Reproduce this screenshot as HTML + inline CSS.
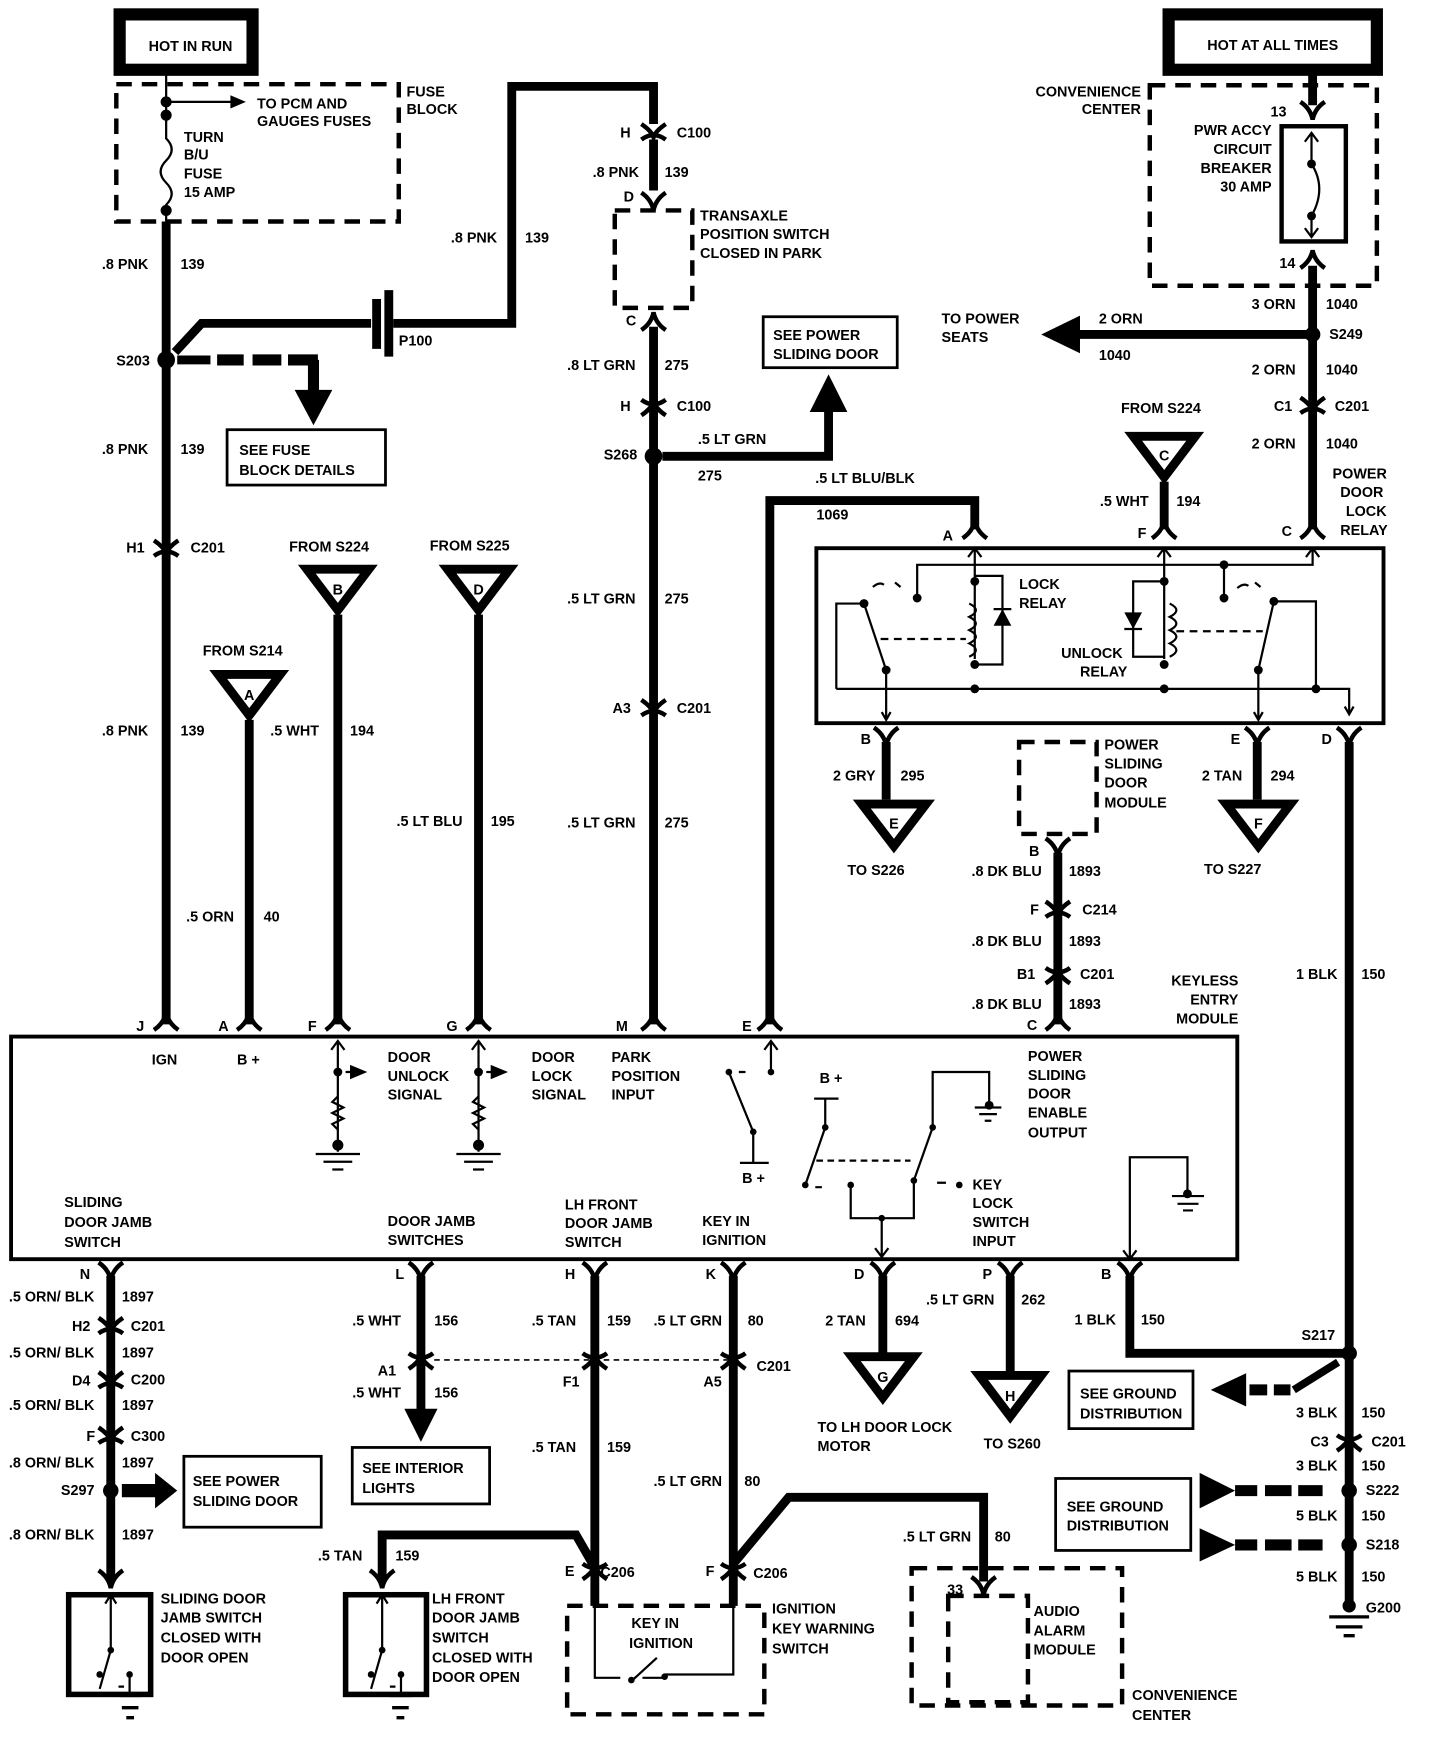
<!DOCTYPE html>
<html><head><meta charset="utf-8"><style>
html,body{margin:0;padding:0;background:#fff}
svg{display:block}
text{font-family:"Liberation Sans",sans-serif;font-weight:bold;font-size:13px;fill:#000}
.w{stroke:#000;stroke-width:8;fill:none}
.t{stroke:#000;stroke-width:2;fill:none}
.d{stroke:#000;stroke-width:4;fill:none;stroke-dasharray:14 9}
.c{stroke:#000;stroke-width:4;fill:none}
</style></head><body>
<svg width="1440" height="1752" viewBox="0 0 1300 1582" preserveAspectRatio="none" xmlns="http://www.w3.org/2000/svg">
<defs>
<g id="fd"><path class="c" d="M-11,8 Q-2,2 0,-8 Q2,2 11,8"/></g>
<g id="fu"><path class="c" d="M-11,-8 Q-2,-2 0,8 Q2,-2 11,-8"/></g>
<g id="cc"><path class="c" d="M-11,-8 Q-2,-2 0,4 Q2,-2 11,-8"/><path class="c" d="M-11,6 Q0,-2 11,6"/></g>
<g id="cu"><path class="c" d="M-11,8 Q-2,2 0,-4 Q2,2 11,8"/><path class="c" d="M-11,-6 Q0,2 11,-6"/></g>
</defs>

<!-- HOT IN RUN -->
<rect x="108" y="13" width="120" height="50" fill="none" stroke="#000" stroke-width="11"/>
<text x="172" y="46" text-anchor="middle">HOT IN RUN</text>
<rect x="105" y="76" width="255" height="124" class="d"/>
<text x="367" y="87">FUSE</text><text x="367" y="103">BLOCK</text>
<path class="t" d="M150,68 V110" stroke-width="3"/>
<circle cx="150" cy="92" r="5"/><circle cx="150" cy="104" r="5"/>
<path class="t" stroke-width="3" d="M150,92 H210"/><path d="M208,86 L222,92 L208,98Z"/>
<text x="232" y="98">TO PCM AND</text><text x="232" y="114">GAUGES FUSES</text>
<path class="t" stroke-width="2.5" d="M150,104 V125 Q160,135 150,145 Q140,155 150,165 Q160,175 150,185 V200"/>
<circle cx="150" cy="190" r="5"/>
<text x="166" y="128">TURN</text><text x="166" y="144">B/U</text><text x="166" y="161">FUSE</text><text x="166" y="178">15 AMP</text>

<!-- left main wire 139 -->
<path class="w" d="M150,200 V925"/>
<text x="92" y="243">.8 PNK</text><text x="163" y="243">139</text>
<circle cx="150" cy="325" r="8"/><text x="105" y="330">S203</text>
<path class="w" d="M158,318 L182,292 H335"/>
<path d="M336,270 h8 v45 h-8z M347,262 h8 v60 h-8z"/>
<path class="w" d="M355,292 H462 V78 H590 V112"/>
<text x="407" y="219">.8 PNK</text><text x="474" y="219">139</text>
<text x="360" y="312">P100</text>
<path class="w" d="M160,325 H190" stroke-width="6"/>
<path d="M196,320 h24 v10 h-24z M228,320 h26 v10 h-26z M260,320 h27 v10 h-27z"/>
<path d="M278,325 h10 v30 h-10z"/><path d="M266,352 L300,352 L283,384Z"/>
<rect x="205" y="388" width="143" height="50" fill="none" stroke="#000" stroke-width="2.5"/>
<text x="216" y="411">SEE FUSE</text><text x="216" y="429">BLOCK DETAILS</text>
<text x="92" y="410">.8 PNK</text><text x="163" y="410">139</text>
<use href="#cc" x="150" y="496"/><text x="114" y="499">H1</text><text x="172" y="499">C201</text>
<text x="92" y="664">.8 PNK</text><text x="163" y="664">139</text>
<use href="#fd" x="150" y="922"/>

<!-- A -->
<text x="183" y="592">FROM S214</text>
<polygon points="197,609 253,609 225,646" fill="#fff" stroke="#000" stroke-width="8"/>
<text x="225" y="632" text-anchor="middle" font-size="18">A</text>
<path class="w" d="M225,650 V925"/><use href="#fd" x="225" y="922"/>
<text x="244" y="664">.5 WHT</text><text x="316" y="664">194</text>
<text x="168" y="832">.5 ORN</text><text x="238" y="832">40</text>
<!-- B -->
<text x="261" y="498">FROM S224</text>
<polygon points="277,514 333,514 305,551" fill="#fff" stroke="#000" stroke-width="8"/>
<text x="305" y="537" text-anchor="middle" font-size="18">B</text>
<path class="w" d="M305,555 V925"/><use href="#fd" x="305" y="922"/>
<!-- D -->
<text x="388" y="497">FROM S225</text>
<polygon points="404,514 460,514 432,551" fill="#fff" stroke="#000" stroke-width="8"/>
<text x="432" y="537" text-anchor="middle" font-size="18">D</text>
<path class="w" d="M432,555 V925"/><use href="#fd" x="432" y="922"/>
<text x="358" y="746">.5 LT BLU</text><text x="443" y="746">195</text>

<!-- column M -->
<use href="#cc" x="590" y="120"/><text x="560" y="124">H</text><text x="611" y="124">C100</text>
<path class="w" d="M590,126 V172"/>
<text x="535" y="160">.8 PNK</text><text x="600" y="160">139</text>
<use href="#fu" x="590" y="182"/><text x="563" y="182">D</text>
<rect x="555" y="190" width="70" height="88" class="d"/>
<text x="632" y="199">TRANSAXLE</text><text x="632" y="216">POSITION SWITCH</text><text x="632" y="233">CLOSED IN PARK</text>
<use href="#fd" x="590" y="290"/><text x="565" y="294">C</text>
<path class="w" d="M590,295 V925"/>
<text x="512" y="334">.8 LT GRN</text><text x="600" y="334">275</text>
<use href="#cu" x="590" y="367"/><text x="560" y="371">H</text><text x="611" y="371">C100</text>
<circle cx="590" cy="412" r="8"/><text x="545" y="415">S268</text>
<path class="w" d="M598,412 H748 V368"/><path d="M731,372 L765,372 L748,338Z"/>
<rect x="689" y="286" width="121" height="46" fill="none" stroke="#000" stroke-width="2.5"/>
<text x="698" y="307">SEE POWER</text><text x="698" y="324">SLIDING DOOR</text>
<text x="630" y="401">.5 LT GRN</text><text x="630" y="434">275</text>
<text x="512" y="545">.5 LT GRN</text><text x="600" y="545">275</text>
<use href="#cc" x="590" y="640"/><text x="553" y="644">A3</text><text x="611" y="644">C201</text>
<text x="512" y="747">.5 LT GRN</text><text x="600" y="747">275</text>
<use href="#fd" x="590" y="922"/>

<!-- column E 1069 -->
<path class="w" d="M695,925 V452 H880 V478"/>
<use href="#fd" x="695" y="922"/>
<text x="736" y="436">.5 LT BLU/BLK</text><text x="737" y="469">1069</text>

<!-- HOT AT ALL TIMES -->
<rect x="1055" y="13" width="188" height="50" fill="none" stroke="#000" stroke-width="11"/>
<text x="1149" y="45" text-anchor="middle">HOT AT ALL TIMES</text>
<rect x="1038" y="77" width="205" height="181" class="d"/>
<text x="1030" y="87" text-anchor="end">CONVENIENCE</text><text x="1030" y="103" text-anchor="end">CENTER</text>
<path class="w" d="M1185,63 V95"/><use href="#fu" x="1185" y="100"/>
<text x="1147" y="105">13</text>
<rect x="1157" y="114" width="58" height="104" fill="none" stroke="#000" stroke-width="4"/>
<path class="t" stroke-width="2.5" d="M1184,120 V148 Q1198,170 1184,195 V214 M1178,128 L1184,120 L1190,128 M1178,206 L1184,214 L1190,206"/>
<circle cx="1184" cy="148" r="4"/><circle cx="1184" cy="195" r="4"/>
<text x="1148" y="122" text-anchor="end">PWR ACCY</text><text x="1148" y="139" text-anchor="end">CIRCUIT</text><text x="1148" y="156" text-anchor="end">BREAKER</text><text x="1148" y="173" text-anchor="end">30 AMP</text>
<use href="#fd" x="1185" y="234"/><text x="1155" y="242">14</text>
<path class="w" d="M1185,240 V478"/>
<text x="1130" y="279">3 ORN</text><text x="1197" y="279">1040</text>
<circle cx="1185" cy="302" r="7"/><text x="1200" y="306">S249</text>
<path class="w" d="M1180,302 H970"/><path d="M975,285 L975,319 L940,302Z"/>
<text x="850" y="292">TO POWER</text><text x="850" y="309">SEATS</text>
<text x="992" y="292">2 ORN</text><text x="992" y="325">1040</text>
<text x="1130" y="338">2 ORN</text><text x="1197" y="338">1040</text>
<use href="#cc" x="1185" y="367"/><text x="1150" y="371">C1</text><text x="1205" y="371">C201</text>
<text x="1130" y="405">2 ORN</text><text x="1197" y="405">1040</text>
<text x="1203" y="432">POWER</text><text x="1210" y="449">DOOR</text><text x="1215" y="466">LOCK</text><text x="1210" y="483">RELAY</text>
<use href="#fd" x="1185" y="478"/><text x="1157" y="484">C</text>
<text x="1012" y="373">FROM S224</text>
<polygon points="1023,394 1079,394 1051,431" fill="#fff" stroke="#000" stroke-width="8"/>
<text x="1051" y="416" text-anchor="middle" font-size="18">C</text>
<path class="w" d="M1051,435 V478"/><use href="#fd" x="1051" y="478"/>
<text x="993" y="457">.5 WHT</text><text x="1062" y="457">194</text>
<text x="1027" y="486">F</text>
<use href="#fd" x="880" y="478"/><text x="851" y="488">A</text>

<!-- relay box -->
<rect x="737" y="495" width="512" height="158" fill="none" stroke="#000" stroke-width="3.5"/>
<g class="t" stroke-width="2">
<path d="M880,495 V595 M1051,495 V595 M1185,495 V510 H828 V538 M1105,510 V540"/>
<path d="M874,503 L880,495 L886,503 M1045,503 L1051,495 L1057,503 M1179,503 L1185,495 L1191,503"/>
<path d="M880,520 H905 V600 H880 M1051,525 H1023 V593 H1051"/>
<path d="M875,545 q12,6 0,12 q12,6 0,12 q12,6 0,12 q12,6 0,12 M1056,545 q12,6 0,12 q12,6 0,12 q12,6 0,12 q12,6 0,12"/>
<path d="M755,622 V545 H780 M1150,543 H1188 V622 M755,622 H1218 V645"/>
<path d="M780,545 L800,605 V650 M1150,543 L1136,605 V650"/>
<path d="M796,643 L800,650 L804,643 M1132,643 L1136,650 L1140,643 M1214,638 L1218,645 L1222,638"/>
<path d="M788,530 q6,-5 10,-2 M808,526 l5,4 M1117,531 q6,-5 10,-2 M1133,526 l5,4"/>
</g>
<path d="M795,577 H872 M1062,570 H1140" stroke="#000" stroke-width="2" stroke-dasharray="7 5"/>
<path d="M897,565 L913,565 L905,550Z M1015,553 L1031,553 L1023,568Z"/>
<path stroke="#000" stroke-width="2" d="M897,550 H913 M1015,568 H1031"/>
<g><circle cx="880" cy="525" r="4"/><circle cx="880" cy="600" r="4"/><circle cx="880" cy="622" r="4"/><circle cx="1051" cy="525" r="4"/><circle cx="1051" cy="600" r="4"/><circle cx="1051" cy="622" r="4"/><circle cx="1105" cy="510" r="4"/><circle cx="1105" cy="540" r="4"/><circle cx="828" cy="540" r="4"/><circle cx="780" cy="545" r="4"/><circle cx="800" cy="605" r="4"/><circle cx="1150" cy="543" r="4"/><circle cx="1136" cy="605" r="4"/><circle cx="1188" cy="622" r="4"/></g>
<text x="920" y="532">LOCK</text><text x="920" y="549">RELAY</text>
<text x="958" y="594">UNLOCK</text><text x="975" y="611">RELAY</text>

<use href="#fu" x="800" y="665"/><text x="777" y="672">B</text>
<path class="w" d="M800,670 V722"/>
<text x="752" y="705">2 GRY</text><text x="813" y="705">295</text>
<polygon points="778,726 836,726 807,764" fill="#fff" stroke="#000" stroke-width="8"/>
<text x="807" y="748" text-anchor="middle" font-size="18">E</text>
<text x="765" y="790">TO S226</text>
<use href="#fu" x="1135" y="665"/><text x="1111" y="672">E</text>
<path class="w" d="M1135,670 V722"/>
<text x="1085" y="705">2 TAN</text><text x="1147" y="705">294</text>
<polygon points="1107,726 1165,726 1136,764" fill="#fff" stroke="#000" stroke-width="8"/>
<text x="1136" y="748" text-anchor="middle" font-size="18">F</text>
<text x="1087" y="789">TO S227</text>
<use href="#fu" x="1218" y="665"/><text x="1193" y="672">D</text>
<path class="w" d="M1218,670 V1450"/>
<text x="1170" y="884">1 BLK</text><text x="1229" y="884">150</text>

<!-- power sliding door module -->
<rect x="920" y="670" width="70" height="83" class="d"/>
<text x="997" y="677">POWER</text><text x="997" y="694">SLIDING</text><text x="997" y="711">DOOR</text><text x="997" y="729">MODULE</text>
<use href="#fu" x="955" y="765"/><text x="929" y="773">B</text>
<path class="w" d="M955,770 V925"/>
<text x="877" y="791">.8 DK BLU</text><text x="965" y="791">1893</text>
<use href="#cc" x="955" y="822"/><text x="930" y="826">F</text><text x="977" y="826">C214</text>
<text x="877" y="854">.8 DK BLU</text><text x="965" y="854">1893</text>
<use href="#cu" x="955" y="880"/><text x="918" y="884">B1</text><text x="975" y="884">C201</text>
<text x="877" y="911">.8 DK BLU</text><text x="965" y="911">1893</text>
<use href="#fd" x="955" y="922"/><text x="927" y="930">C</text>
<text x="1118" y="890" text-anchor="end">KEYLESS</text><text x="1118" y="907" text-anchor="end">ENTRY</text><text x="1118" y="924" text-anchor="end">MODULE</text>

<!-- top pin labels -->
<text x="123" y="931">J</text><text x="197" y="931">A</text><text x="278" y="931">F</text><text x="403" y="931">G</text><text x="556" y="931">M</text><text x="670" y="931">E</text>

<!-- main module -->
<rect x="10" y="936" width="1107" height="201" fill="none" stroke="#000" stroke-width="3.5"/>
<text x="137" y="961">IGN</text><text x="214" y="961">B +</text>
<text x="350" y="959">DOOR</text><text x="350" y="976">UNLOCK</text><text x="350" y="993">SIGNAL</text>
<text x="480" y="959">DOOR</text><text x="480" y="976">LOCK</text><text x="480" y="993">SIGNAL</text>
<text x="552" y="959">PARK</text><text x="552" y="976">POSITION</text><text x="552" y="993">INPUT</text>
<text x="928" y="958">POWER</text><text x="928" y="975">SLIDING</text><text x="928" y="992">DOOR</text><text x="928" y="1009">ENABLE</text><text x="928" y="1027">OUTPUT</text>
<text x="58" y="1090">SLIDING</text><text x="58" y="1108">DOOR JAMB</text><text x="58" y="1126">SWITCH</text>
<text x="350" y="1107">DOOR JAMB</text><text x="350" y="1124">SWITCHES</text>
<text x="510" y="1092">LH FRONT</text><text x="510" y="1109">DOOR JAMB</text><text x="510" y="1126">SWITCH</text>
<text x="634" y="1107">KEY IN</text><text x="634" y="1124">IGNITION</text>
<text x="878" y="1074">KEY</text><text x="878" y="1091">LOCK</text><text x="878" y="1108">SWITCH</text><text x="878" y="1125">INPUT</text>
<g class="t" stroke-width="2">
<path d="M305,940 V1040 M299,948 L305,940 L311,948 M432,940 V1040 M426,948 L432,940 L438,948"/>
<path d="M305,990 l-5,5 l10,5 l-10,5 l10,5 l-10,5 l5,5 M432,990 l-5,5 l10,5 l-10,5 l10,5 l-10,5 l5,5"/>
<path d="M285,1042 H325 M292,1049 H318 M300,1056 H310 M412,1042 H452 M419,1049 H445 M427,1056 H437"/>
<path d="M696,940 V970 M690,948 L696,940 L702,948 M658,968 L680,1022 V1050 M668,1050 H694"/>
<path d="M745,992 V1018 L727,1070 M735,992 H757 M825,1066 L842,1018 V968 H893 V1000 M880,1000 H904 M884,1006 H900 M889,1012 H895"/>
<path d="M768,1070 V1100 H825 V1066 M796,1100 V1135 M790,1127 L796,1135 L802,1127"/>
<path d="M1020,1137 V1045 H1072 V1080 M1058,1080 H1087 M1063,1087 H1082 M1068,1093 H1077"/>
<path d="M1014,1129 L1020,1137 L1026,1129"/>
</g>
<path d="M312,968 H325 M317,963 L329,968 L317,973Z M439,968 H452 M444,963 L456,968 L444,973Z" stroke="#000" stroke-width="2"/>
<path d="M737,1048 H822" stroke="#000" stroke-width="2" stroke-dasharray="6 4"/>
<g><circle cx="305" cy="968" r="4"/><circle cx="432" cy="968" r="4"/><circle cx="305" cy="1034" r="5"/><circle cx="432" cy="1034" r="5"/><circle cx="658" cy="968" r="3"/><circle cx="696" cy="968" r="3"/><circle cx="680" cy="1022" r="3"/><circle cx="745" cy="1018" r="3"/><circle cx="727" cy="1070" r="3"/><circle cx="768" cy="1070" r="3"/><circle cx="825" cy="1066" r="3"/><circle cx="842" cy="1018" r="3"/><circle cx="866" cy="1070" r="3"/><circle cx="796" cy="1100" r="3"/><circle cx="893" cy="998" r="4"/><circle cx="1072" cy="1078" r="4"/></g>
<path stroke="#000" stroke-width="2" d="M667,968 h6 M736,1072 h6 M846,1068 h8"/>
<text x="740" y="978">B +</text><text x="670" y="1068">B +</text>

<!-- bottom pins -->
<text x="72" y="1155">N</text><text x="357" y="1155">L</text><text x="510" y="1155">H</text><text x="637" y="1155">K</text><text x="771" y="1155">D</text><text x="887" y="1155">P</text><text x="994" y="1155">B</text>
<use href="#fu" x="100" y="1148"/><use href="#fu" x="380" y="1148"/><use href="#fu" x="537" y="1148"/><use href="#fu" x="662" y="1148"/><use href="#fu" x="797" y="1148"/><use href="#fu" x="912" y="1148"/><use href="#fu" x="1020" y="1148"/>

<!-- x=100 -->
<path class="w" d="M100,1152 V1428"/>
<text x="8" y="1175">.5 ORN/ BLK</text><text x="110" y="1175">1897</text>
<use href="#cc" x="100" y="1198"/><text x="65" y="1202">H2</text><text x="118" y="1202">C201</text>
<text x="8" y="1226">.5 ORN/ BLK</text><text x="110" y="1226">1897</text>
<use href="#cc" x="100" y="1247"/><text x="65" y="1251">D4</text><text x="118" y="1250">C200</text>
<text x="8" y="1273">.5 ORN/ BLK</text><text x="110" y="1273">1897</text>
<use href="#cc" x="100" y="1297"/><text x="78" y="1301">F</text><text x="118" y="1301">C300</text>
<text x="8" y="1325">.8 ORN/ BLK</text><text x="110" y="1325">1897</text>
<circle cx="100" cy="1346" r="7"/><text x="55" y="1350">S297</text>
<path d="M110,1340 h32 v12 h-32z M140,1330 L160,1346 L140,1362Z"/>
<rect x="166" y="1315" width="124" height="64" fill="none" stroke="#000" stroke-width="2.5"/>
<text x="174" y="1342">SEE POWER</text><text x="174" y="1360">SLIDING DOOR</text>
<text x="8" y="1390">.8 ORN/ BLK</text><text x="110" y="1390">1897</text>
<use href="#fu" x="100" y="1426"/>
<rect x="62" y="1440" width="74" height="90" fill="none" stroke="#000" stroke-width="5"/>
<path class="t" d="M100,1440 V1490 L90,1525 M95,1448 L100,1440 L105,1448 M117,1510 V1530 M107,1523 H112"/>
<circle cx="100" cy="1490" r="3"/><circle cx="90" cy="1512" r="3"/><circle cx="117" cy="1512" r="3"/>
<path stroke="#000" stroke-width="3" d="M108,1531 H128 M110,1542 H125 M114,1551 H121"/>
<text x="145" y="1448">SLIDING DOOR</text><text x="145" y="1465">JAMB SWITCH</text><text x="145" y="1483">CLOSED WITH</text><text x="145" y="1501">DOOR OPEN</text>

<!-- x=380 -->
<path class="w" d="M380,1152 V1275"/>
<text x="318" y="1197">.5 WHT</text><text x="392" y="1197">156</text>
<use href="#cu" x="380" y="1228"/><text x="341" y="1242">A1</text>
<path d="M392,1228 H660" stroke="#000" stroke-width="1.5" stroke-dasharray="5 4"/>
<text x="318" y="1262">.5 WHT</text><text x="392" y="1262">156</text>
<path d="M365,1272 L395,1272 L380,1302Z"/>
<rect x="318" y="1307" width="124" height="51" fill="none" stroke="#000" stroke-width="2.5"/>
<text x="327" y="1330">SEE INTERIOR</text><text x="327" y="1348">LIGHTS</text>

<!-- x=537 -->
<path class="w" d="M537,1152 V1450"/>
<text x="480" y="1197">.5 TAN</text><text x="548" y="1197">159</text>
<use href="#cu" x="537" y="1228"/><text x="508" y="1252">F1</text>
<text x="480" y="1311">.5 TAN</text><text x="548" y="1311">159</text>
<path class="w" d="M345,1428 V1386 H520 L535,1412"/>
<text x="287" y="1409">.5 TAN</text><text x="357" y="1409">159</text>
<use href="#fu" x="345" y="1426"/>
<use href="#cu" x="537" y="1418"/><text x="510" y="1423">E</text><text x="542" y="1424">C206</text>
<rect x="312" y="1440" width="73" height="90" fill="none" stroke="#000" stroke-width="5"/>
<path class="t" d="M345,1440 V1490 L335,1525 M340,1448 L345,1440 L350,1448 M362,1510 V1530 M352,1523 H357"/>
<circle cx="345" cy="1490" r="3"/><circle cx="335" cy="1512" r="3"/><circle cx="362" cy="1512" r="3"/>
<path stroke="#000" stroke-width="3" d="M352,1531 H372 M354,1542 H369 M358,1551 H365"/>
<text x="390" y="1448">LH FRONT</text><text x="390" y="1465">DOOR JAMB</text><text x="390" y="1483">SWITCH</text><text x="390" y="1501">CLOSED WITH</text><text x="390" y="1519">DOOR OPEN</text>

<!-- x=662 -->
<path class="w" d="M662,1152 V1450"/>
<text x="590" y="1197">.5 LT GRN</text><text x="675" y="1197">80</text>
<use href="#cu" x="662" y="1228"/><text x="635" y="1252">A5</text><text x="683" y="1238">C201</text>
<text x="590" y="1342">.5 LT GRN</text><text x="672" y="1342">80</text>
<path class="w" d="M662,1412 L712,1352 H888 V1428"/>
<use href="#cu" x="662" y="1418"/><text x="637" y="1423">F</text><text x="680" y="1425">C206</text>
<rect x="512" y="1450" width="178" height="98" class="d"/>
<path class="t" stroke-width="2.5" d="M537,1450 V1515 H560 M580,1515 H600 M600,1512 H662 V1450 M570,1518 L593,1497"/>
<circle cx="570" cy="1517" r="3"/><circle cx="600" cy="1514" r="3"/>
<text x="570" y="1470">KEY IN</text><text x="568" y="1488">IGNITION</text>
<text x="697" y="1457">IGNITION</text><text x="697" y="1475">KEY WARNING</text><text x="697" y="1493">SWITCH</text>
<text x="815" y="1392">.5 LT GRN</text><text x="898" y="1392">80</text>
<use href="#fu" x="888" y="1432"/><text x="855" y="1440">33</text>
<rect x="823" y="1416" width="190" height="124" class="d"/>
<rect x="856" y="1441" width="72" height="96" class="d"/>
<text x="933" y="1459">AUDIO</text><text x="933" y="1477">ALARM</text><text x="933" y="1494">MODULE</text>
<text x="1022" y="1535">CONVENIENCE</text><text x="1022" y="1553">CENTER</text>

<!-- x=797 G -->
<path class="w" d="M797,1152 V1222"/>
<text x="745" y="1197">2 TAN</text><text x="808" y="1197">694</text>
<polygon points="769,1225 825,1225 797,1262" fill="#fff" stroke="#000" stroke-width="8"/>
<text x="797" y="1248" text-anchor="middle" font-size="18">G</text>
<text x="738" y="1293">TO LH DOOR LOCK</text><text x="738" y="1310">MOTOR</text>
<!-- x=912 H -->
<path class="w" d="M912,1152 V1240"/>
<text x="836" y="1178">.5 LT GRN</text><text x="922" y="1178">262</text>
<polygon points="884,1242 940,1242 912,1279" fill="#fff" stroke="#000" stroke-width="8"/>
<text x="912" y="1265" text-anchor="middle" font-size="18">H</text>
<text x="888" y="1308">TO S260</text>
<!-- x=1020 -->
<path class="w" d="M1020,1152 V1222 H1218"/>
<text x="970" y="1196">1 BLK</text><text x="1030" y="1196">150</text>
<circle cx="1218" cy="1222" r="7"/><text x="1175" y="1210">S217</text>
<rect x="965" y="1238" width="112" height="52" fill="none" stroke="#000" stroke-width="2.5"/>
<text x="975" y="1263">SEE GROUND</text><text x="975" y="1281">DISTRIBUTION</text>
<path d="M1093,1255 L1125,1240 V1270Z M1128,1250 h16 v10 h-16z M1150,1250 h15 v10 h-15z" />
<path d="M1168,1255 L1208,1230" stroke="#000" stroke-width="7"/>
<text x="1170" y="1280">3 BLK</text><text x="1229" y="1280">150</text>
<use href="#cu" x="1218" y="1302"/><text x="1183" y="1306">C3</text><text x="1238" y="1306">C201</text>
<text x="1170" y="1328">3 BLK</text><text x="1229" y="1328">150</text>
<circle cx="1218" cy="1346" r="7"/><text x="1233" y="1350">S222</text>
<text x="1170" y="1373">5 BLK</text><text x="1229" y="1373">150</text>
<circle cx="1218" cy="1395" r="7"/><text x="1233" y="1399">S218</text>
<text x="1170" y="1428">5 BLK</text><text x="1229" y="1428">150</text>
<circle cx="1218" cy="1450" r="6"/><text x="1233" y="1456">G200</text>
<path stroke="#000" stroke-width="3" d="M1200,1460 H1236 M1206,1469 H1230 M1213,1477 H1223"/>
<rect x="953" y="1335" width="122" height="65" fill="none" stroke="#000" stroke-width="2.5"/>
<text x="963" y="1365">SEE GROUND</text><text x="963" y="1382">DISTRIBUTION</text>
<path d="M1083,1330 L1115,1346 L1083,1362Z M1115,1341 h20 v10 h-20z M1142,1341 h24 v10 h-24z M1172,1341 h22 v10 h-22z"/>
<path d="M1083,1380 L1115,1395 L1083,1410Z M1115,1390 h20 v10 h-20z M1142,1390 h24 v10 h-24z M1172,1390 h22 v10 h-22z"/>
</svg>
</body></html>
